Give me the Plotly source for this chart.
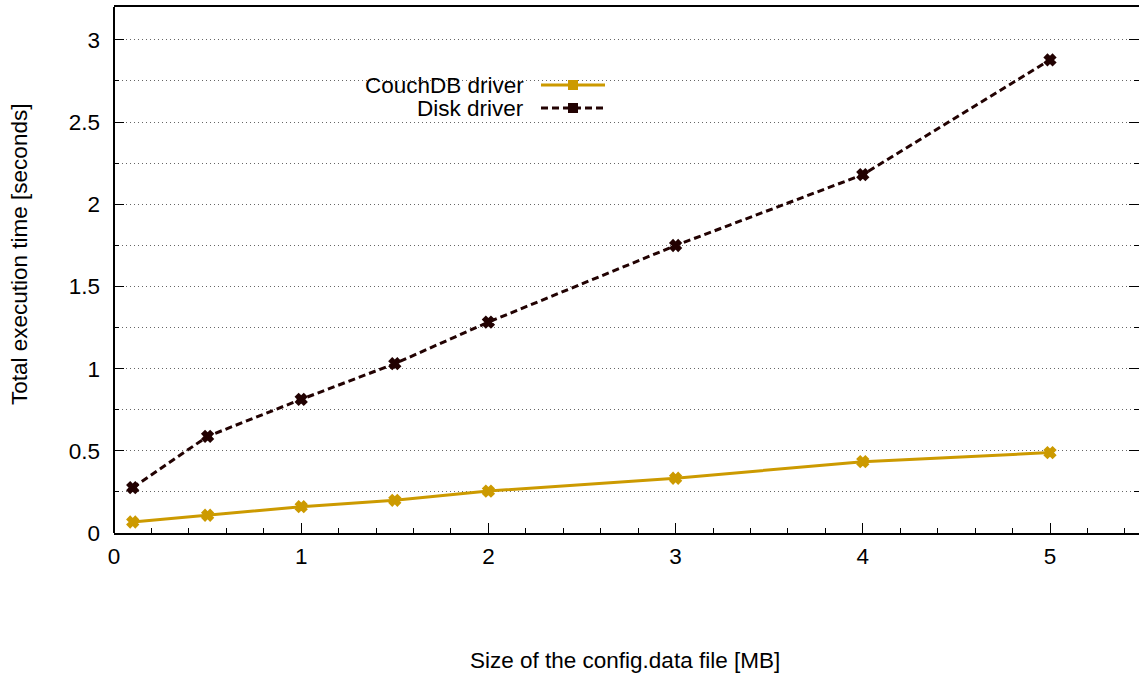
import plotly.graph_objects as go

# Data
sizes_mb = [0.1, 0.5, 1, 1.5, 2, 3, 4, 5]
couchdb_time = [0.067, 0.108, 0.160, 0.199, 0.255, 0.333, 0.434, 0.489]
disk_time = [0.276, 0.588, 0.813, 1.030, 1.283, 1.749, 2.180, 2.878]
series_names = ["CouchDB driver", "Disk driver"]

COUCH = "#cc9a00"
DISK = "#220202"
FONT = "Liberation Sans, Arial, Helvetica, sans-serif"
FS = 22.5

W, H = 1139, 675
L, R, T, B = 114, 0, 7, 142
pw, ph = W - L - R, H - T - B

def px(x):
    return (x - L) / pw

def py(y):
    return (H - B - y) / ph

fig = go.Figure()
fig.add_trace(go.Scatter(
    x=sizes_mb, y=couchdb_time, name=series_names[0], mode="lines+markers",
    line=dict(color=COUCH, width=3),
    marker=dict(symbol="x", size=9, color=COUCH, line=dict(width=2.2, color=COUCH)),
    showlegend=False,
))
fig.add_trace(go.Scatter(
    x=sizes_mb, y=disk_time, name=series_names[1], mode="lines+markers",
    line=dict(color=DISK, width=3, dash="7px,4px"),
    marker=dict(symbol="x", size=9, color=DISK, line=dict(width=2.2, color=DISK)),
    showlegend=False,
))

shapes = [
    # left border
    dict(type="line", xref="paper", yref="paper", x0=0, x1=0, y0=0, y1=1,
         line=dict(color="black", width=2), layer="above"),
    # legend background
    dict(type="rect", xref="paper", yref="paper", x0=px(334), x1=px(617),
         y0=py(119), y1=py(71), fillcolor="white", line=dict(width=0), layer="below"),
    # legend samples
    dict(type="line", xref="paper", yref="paper", x0=px(541), x1=px(605),
         y0=py(85), y1=py(85), line=dict(color=COUCH, width=3), layer="above"),
    dict(type="line", xref="paper", yref="paper", x0=px(541), x1=px(605),
         y0=py(108), y1=py(108), line=dict(color=DISK, width=3, dash="7px,4px"), layer="above"),
    dict(type="rect", xref="paper", yref="paper", x0=px(568), x1=px(578),
         y0=py(90), y1=py(80), fillcolor=COUCH, line=dict(width=0), layer="above"),
    dict(type="rect", xref="paper", yref="paper", x0=px(568), x1=px(578),
         y0=py(113), y1=py(103), fillcolor=DISK, line=dict(width=0), layer="above"),
]

annotations = [
    dict(text=series_names[0], xref="paper", yref="paper", x=px(526), y=py(85),
         xanchor="right", yanchor="middle", showarrow=False,
         font=dict(family=FONT, size=FS, color="black")),
    dict(text=series_names[1], xref="paper", yref="paper", x=px(526), y=py(108),
         xanchor="right", yanchor="middle", showarrow=False,
         font=dict(family=FONT, size=FS, color="black")),
    dict(text="Size of the config.data file [MB]", xref="paper", yref="paper",
         x=px(625), y=py(660), xanchor="center", yanchor="middle", showarrow=False,
         font=dict(family=FONT, size=FS, color="black")),
    dict(text="Total execution time [seconds]", xref="paper", yref="paper",
         x=px(19), y=py(255), xanchor="center", yanchor="middle", textangle=-90,
         showarrow=False, font=dict(family=FONT, size=FS, color="black")),
]

fig.update_layout(
    width=W, height=H,
    margin=dict(l=L, r=R, t=T, b=B, pad=0),
    paper_bgcolor="white", plot_bgcolor="white",
    font=dict(family=FONT, size=FS, color="black"),
    shapes=shapes, annotations=annotations,
    xaxis=dict(
        range=[0, pw / 187.2], tickmode="linear", tick0=0, dtick=1,
        ticks="inside", ticklen=10, tickwidth=1, tickcolor="black",
        showline=True, linecolor="black", linewidth=2, mirror=True,
        showgrid=False, zeroline=False, ticklabelstandoff=2,
        minor=dict(ticks="inside", ticklen=5, tickwidth=1, tickcolor="black",
                   dtick=0.2, tick0=0, showgrid=False),
    ),
    yaxis=dict(
        range=[0, 3.2], tickmode="linear", tick0=0, dtick=0.5,
        ticks="inside", ticklen=10, tickwidth=1, tickcolor="black",
        showline=False, mirror="ticks",
        showgrid=True, gridcolor="#666666", gridwidth=1, griddash="1px,3px",
        zeroline=False, ticklabelstandoff=13,
        minor=dict(ticks="inside", ticklen=5, tickwidth=1, tickcolor="black",
                   dtick=0.25, tick0=0, showgrid=True, gridcolor="#666666",
                   gridwidth=1, griddash="1px,3px"),
    ),
)

fig.write_html("out.html")
